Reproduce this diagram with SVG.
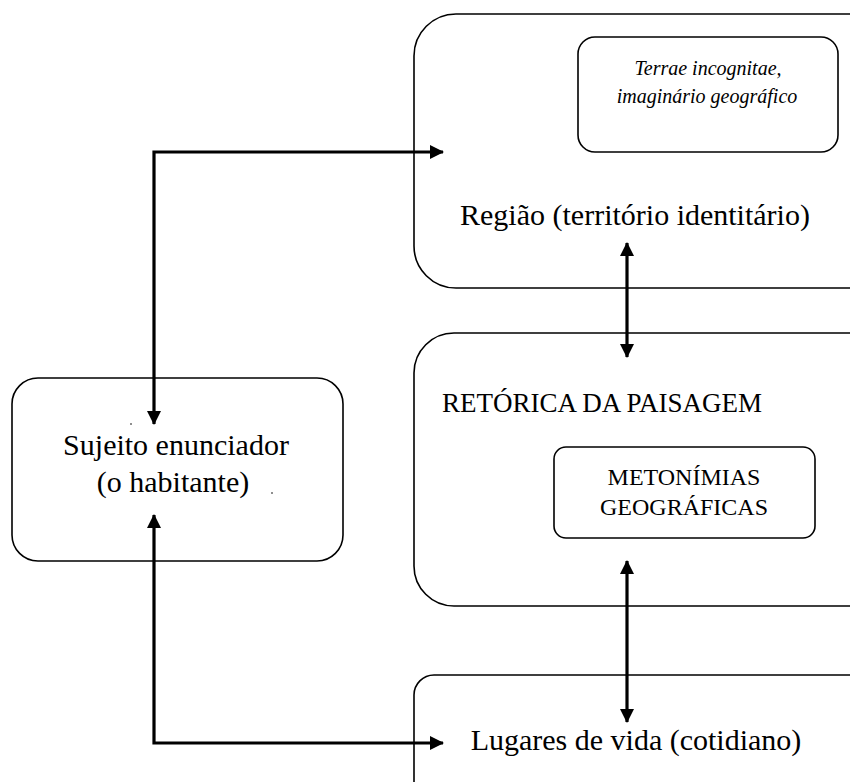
<svg xmlns="http://www.w3.org/2000/svg" width="850" height="782" viewBox="0 0 850 782">
<defs>
<style>
.box{fill:none;stroke:#000;stroke-width:1.6}
.t{font-family:"Liberation Serif","DejaVu Serif",serif;fill:#000}
.c{fill:none;stroke:#000;stroke-width:3.2}
</style>
<marker id="ah" viewBox="0 0 14 14" refX="13" refY="7" markerWidth="14" markerHeight="14" markerUnits="userSpaceOnUse" orient="auto-start-reverse">
<path d="M0,0 L14,7 L0,14 Z" fill="#000"/>
</marker>
</defs>
<rect width="850" height="782" fill="#fff"/>
<g id="regiao">
<rect class="box" x="414" y="14" width="480" height="274" rx="42"/>
<text class="t" x="635" y="225" font-size="30" text-anchor="middle">Região (território identitário)</text>
</g>
<g id="terrae">
<rect class="box" x="578" y="37" width="260" height="115" rx="17"/>
<text class="t" x="708" y="75" font-size="20" font-style="italic" text-anchor="middle">Terrae incognitae,</text>
<text class="t" x="707" y="103" font-size="20" font-style="italic" text-anchor="middle">imaginário geográfico</text>
</g>
<g id="retorica">
<rect class="box" x="414" y="333" width="480" height="273" rx="40"/>
<text class="t" x="442" y="412" font-size="27">RETÓRICA DA PAISAGEM</text>
</g>
<g id="metonimias">
<rect class="box" x="554" y="447" width="261" height="91" rx="12"/>
<text class="t" x="684" y="485" font-size="24" text-anchor="middle">METONÍMIAS</text>
<text class="t" x="684" y="515" font-size="24" text-anchor="middle">GEOGRÁFICAS</text>
</g>
<g id="lugares">
<rect class="box" x="414" y="675" width="480" height="160" rx="20"/>
<text class="t" x="636" y="750" font-size="30" text-anchor="middle">Lugares de vida (cotidiano)</text>
</g>
<g id="sujeito">
<rect class="box" x="12" y="378" width="331" height="183" rx="26"/>
<text class="t" x="176" y="455" font-size="30" text-anchor="middle">Sujeito enunciador</text>
<text class="t" x="173" y="492" font-size="30" text-anchor="middle">(o habitante)</text>
<circle cx="131" cy="424" r="0.8" fill="#000"/>
<circle cx="272" cy="493" r="0.8" fill="#000"/>
</g>
<g id="connectors">
<path class="c" d="M154,424 L154,152 L443,152" marker-start="url(#ah)" marker-end="url(#ah)"/>
<path class="c" d="M154,515 L154,743 L443,743" marker-start="url(#ah)" marker-end="url(#ah)"/>
<path class="c" d="M627,243 L627,357" marker-start="url(#ah)" marker-end="url(#ah)"/>
<path class="c" d="M627,561 L627,722" marker-start="url(#ah)" marker-end="url(#ah)"/>
</g>
</svg>
